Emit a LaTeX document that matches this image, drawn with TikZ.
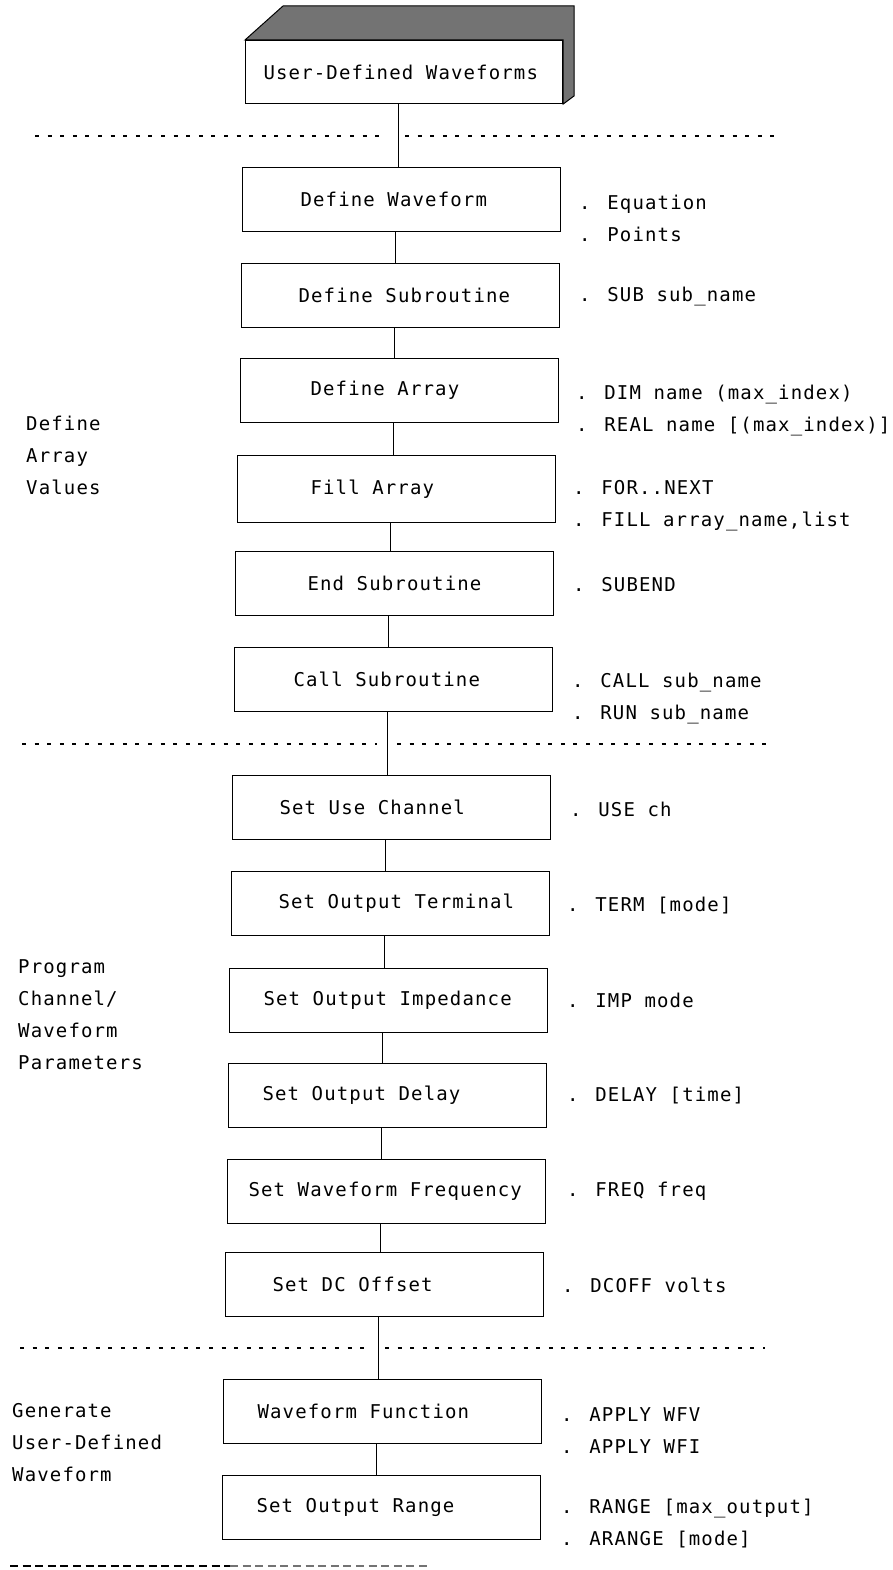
\documentclass[tikz,border=0pt]{standalone}
\usepackage{fontspec}
\newfontfamily\typewriter[LetterSpace=6]{DejaVu Sans Mono}
\usepackage{tikz}

\begin{document}
\begin{tikzpicture}[
  x=1pt, y=-1pt,
  font=\typewriter\fontsize{19}{32}\selectfont,
  stepbox/.style={draw, line width=1.1pt, anchor=north west, fill=white,
    text width=318pt, inner xsep=0pt, minimum height=64pt, align=left,
    execute at begin node={\spaceskip=0pt\xspaceskip=0pt\hspace*{#1}}},
  note/.style={anchor=west, inner sep=0pt, align=left},
  side/.style={anchor=west, inner sep=0pt, align=left},
  sep/.style={line width=1.3pt, dash pattern=on 4pt off 8.6pt},
  link/.style={line width=1.1pt}
]
\useasboundingbox (0,0) rectangle (893,1570);

% title box with shaded top and side
\node[stepbox=18pt, text width=317pt, minimum height=63pt] (top) at (245,40)
  {User-Defined Waveforms};
\draw[line width=1pt, fill=black!55]
  (top.north west) -- (283,6) -- (574,6) -- (574,96) -- (top.south east)
  -- (top.north east) -- cycle;

% steps
\node[stepbox=58pt] (dw)  at (242,167)  {Define Waveform};
\node[stepbox=57pt] (ds)  at (241,263)  {Define Subroutine};
\node[stepbox=70pt] (da)  at (240,358)  {Define Array};
\node[stepbox=73pt, minimum height=67pt] (fa) at (237,455) {Fill Array};
\node[stepbox=72pt] (es)  at (235,551)  {End Subroutine};
\node[stepbox=59pt] (cs)  at (234,647)  {Call Subroutine};
\node[stepbox=47pt] (suc) at (232,775)  {Set Use Channel};
\node[stepbox=47pt] (sot) at (231,871)  {Set Output Terminal};
\node[stepbox=34pt] (soi) at (229,968)  {Set Output Impedance};
\node[stepbox=34pt] (sod) at (228,1063) {Set Output Delay};
\node[stepbox=21pt] (swf) at (227,1159) {Set Waveform Frequency};
\node[stepbox=47pt] (sdc) at (225,1252) {Set DC Offset};
\node[stepbox=34pt] (wf)  at (223,1379) {Waveform Function};
\node[stepbox=34pt] (sor) at (222,1475) {Set Output Range};

\foreach \a/\b in {top/dw, dw/ds, ds/da, da/fa, fa/es, es/cs, cs/suc,
    suc/sot, sot/soi, soi/sod, sod/swf, swf/sdc, sdc/wf, wf/sor}
  \draw[link] ([xshift=-6pt]\a.south) -- ([xshift=-6pt]\a.south |- \b.north);

% commands beside each step
\node[note] (n1)  at (579,218)  {. Equation\\. Points};
\node[note] (n2)  at (579,297)  {. SUB sub\_name};
\node[note] (n3)  at (576,411)  {. DIM name (max\_index)\\. REAL name [(max\_index)]};
\node[note] (n4)  at (573,506)  {. FOR..NEXT\\. FILL array\_name,list};
\node[note] (n5)  at (573,585)  {. SUBEND};
\node[note] (n6)  at (572,699)  {. CALL sub\_name\\. RUN sub\_name};
\node[note] (n7)  at (570,809)  {. USE ch};
\node[note] (n8)  at (567,906)  {. TERM [mode]};
\node[note] (n9)  at (567,1000) {. IMP mode};
\node[note] (n10) at (567,1096) {. DELAY [time]};
\node[note] (n11) at (567,1191) {. FREQ freq};
\node[note] (n12) at (562,1285) {. DCOFF volts};
\node[note] (n13) at (561,1431) {. APPLY WFV\\. APPLY WFI};
\node[note] (n14) at (561,1524) {. RANGE [max\_output]\\. ARANGE [mode]};

% group names on the left
\node[side] (g1) at (26,455)  {Define\\Array\\Values};
\node[side] (g2) at (18,1015) {Program\\Channel/\\Waveform\\Parameters};
\node[side] (g3) at (12,1443) {Generate\\User-Defined\\Waveform};

% dashed separators
\foreach \y/\xa/\xb/\xc/\xd in {136/35/387/405/780, 744/22/377/397/770,
    1348/20/370/385/765} {
  \draw[sep] (\xa,\y) -- (\xb,\y);
  \draw[sep] (\xc,\y) -- (\xd,\y);
}
\draw[sep, dash pattern=on 8pt off 4.6pt] (10,1566) -- (230,1566);
\draw[sep, black!55, dash pattern=on 8pt off 4.6pt] (230,1566) -- (428,1566);
\end{tikzpicture}
\end{document}
